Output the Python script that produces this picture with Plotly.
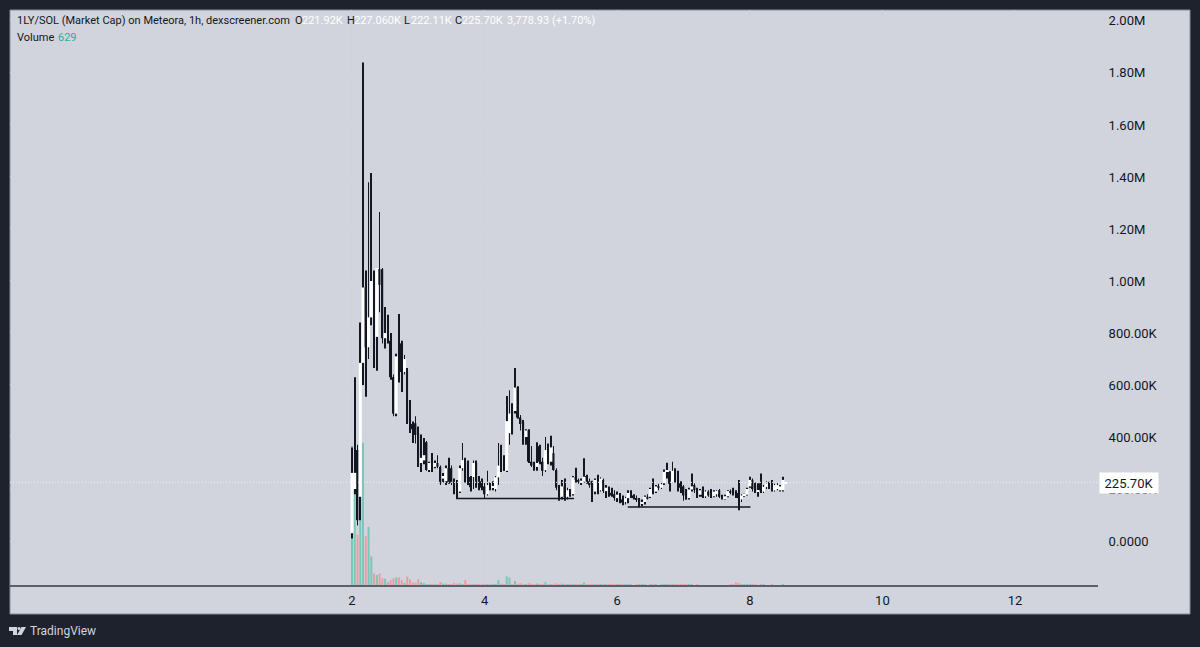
import plotly.graph_objects as go

W, H = 1200, 647

# candles in K, one per hour
opens = [30, 200, 350, 170, 685, 975, 745, 860, 970, 785, 1046, 1045, 780, 792, 770, 630, 490, 760, 760, 650,
         655, 460, 450, 453, 415, 300, 310, 380, 273, 305, 285, 300, 285, 240, 230, 280, 280, 230, 190, 190,
         280, 303, 305, 246, 246, 300, 240, 230, 210, 180, 215, 205, 200, 245, 290, 305, 270, 415, 505, 500,
         590, 475, 457, 400, 425, 305, 290, 285, 365, 305, 273, 350, 305, 338, 273, 205, 170, 210, 170, 190,
         180, 245, 235, 225, 228, 250, 230, 225, 190, 235, 195, 235, 192, 205, 185, 180, 165, 178, 160, 150,
         165, 185, 175, 165, 160, 145, 150, 170, 170, 200, 190, 210, 205, 222, 266, 265, 225, 273, 265, 222,
         210, 196, 165, 198, 215, 196, 178, 195, 172, 190, 195, 172, 180, 195, 170, 165, 172, 192, 200, 190,
         185, 160, 175, 178, 210, 235, 215, 190, 222, 190, 208, 222, 228, 195, 200, 195, 195, 221.92]
highs = [360, 630, 370, 840, 1840, 1040, 1380, 1415, 1040, 1050, 1265, 1050, 900, 870, 800, 640, 720, 873, 770, 715,
         665, 542, 460, 480, 440, 410, 396, 385, 305, 338, 310, 330, 290, 262, 290, 320, 290, 240, 235, 290,
         377, 320, 310, 250, 310, 310, 250, 240, 225, 270, 225, 230, 250, 377, 370, 330, 558, 580, 530, 665,
         595, 485, 465, 430, 430, 365, 305, 380, 370, 320, 400, 375, 405, 365, 280, 215, 235, 240, 205, 200,
         250, 282, 240, 240, 318, 255, 240, 232, 240, 255, 245, 240, 215, 210, 205, 195, 190, 185, 175, 170,
         195, 195, 180, 175, 165, 160, 175, 180, 205, 240, 215, 220, 225, 275, 301, 268, 305, 280, 270, 230,
         215, 200, 205, 260, 222, 205, 200, 210, 195, 195, 200, 195, 195, 200, 178, 178, 195, 198, 205, 195,
         235, 180, 182, 205, 247, 240, 225, 222, 260, 215, 230, 228, 235, 220, 222, 215, 247, 227.06]
lows = [10, 180, 60, 80, 600, 555, 700, 830, 665, 655, 880, 760, 740, 760, 620, 480, 480, 610, 573, 640,
        450, 415, 377, 375, 285, 265, 295, 270, 265, 265, 280, 280, 215, 225, 215, 220, 215, 180, 165, 185,
        270, 225, 215, 190, 200, 205, 195, 195, 165, 175, 195, 195, 190, 215, 265, 270, 265, 370, 410, 490,
        470, 425, 370, 370, 300, 285, 270, 270, 295, 250, 265, 295, 290, 270, 195, 155, 160, 155, 160, 170,
        175, 225, 220, 215, 225, 220, 205, 150, 180, 180, 190, 185, 165, 170, 170, 155, 150, 145, 138, 140,
        145, 165, 160, 150, 130, 135, 140, 160, 165, 180, 185, 195, 200, 215, 240, 190, 225, 225, 190, 185,
        155, 160, 160, 190, 185, 165, 170, 165, 165, 170, 165, 168, 170, 165, 160, 160, 168, 180, 175, 165,
        118, 150, 170, 175, 205, 190, 185, 170, 185, 185, 200, 200, 190, 190, 195, 190, 190, 222.11]
closes = [262, 262, 80, 685, 975, 745, 860, 1000, 785, 1050, 985, 780, 800, 765, 630, 490, 710, 740, 650, 700,
          457, 440, 430, 408, 300, 320, 330, 273, 300, 270, 300, 285, 222, 250, 280, 225, 225, 190, 175, 280,
          311, 242, 240, 207, 300, 215, 205, 205, 180, 215, 205, 210, 245, 290, 275, 270, 461, 490, 415, 590,
          475, 450, 400, 425, 305, 290, 285, 300, 305, 270, 350, 305, 360, 273, 205, 170, 210, 170, 195, 180,
          245, 235, 225, 232, 247, 230, 215, 190, 235, 195, 240, 192, 205, 185, 175, 165, 178, 160, 148, 165,
          185, 175, 165, 160, 140, 150, 170, 165, 200, 190, 210, 205, 218, 266, 270, 220, 270, 235, 195, 205,
          175, 160, 198, 210, 196, 175, 195, 170, 190, 175, 170, 190, 192, 170, 165, 172, 192, 185, 180, 172,
          165, 175, 178, 200, 235, 200, 190, 195, 190, 208, 222, 205, 195, 215, 215, 210, 235, 225.70]
# volume in K
volumes = [90, 60, 33, 60, 92, 32, 38, 19, 8.1, 7, 8, 5, 4.7, 2.6, 3.8, 4.9, 5.5, 5.5, 3.8, 2.1,
           6, 4.3, 2.3, 2.1, 4.5, 2.6, 1.9, 1.3, 1.3, 1.3, 0.9, 0.9, 2.6, 1.5, 1.5, 1.3, 1.3, 1.9, 1.5, 1.7,
           1.3, 3.8, 0.9, 1.1, 0.9, 1.4, 0.8, 1.0, 1.3, 1.2, 0.8, 0.9, 1.4, 3.8, 1.5, 0.9, 6.2, 5.5, 1.0, 3.2,
           1.5, 1.7, 0.9, 1.1, 1.8, 1.4, 1.0, 1.6, 0.9, 1.1, 2.4, 1.0, 1.2, 1.4, 1.7, 1.0, 1.5, 1.2, 0.8, 0.9,
           1.3, 1.1, 0.8, 0.9, 2.4, 1.0, 0.8, 1.2, 0.9, 0.7, 1.1, 0.9, 0.8, 0.9, 0.7, 1.0, 0.8, 0.7, 0.9, 0.7,
           0.8, 0.7, 0.6, 0.8, 1.0, 0.7, 0.9, 0.6, 0.8, 1.1, 0.7, 0.6, 0.7, 1.2, 1.0, 0.9, 1.0, 0.8, 0.9, 0.7,
           0.9, 0.8, 0.7, 1.0, 0.6, 0.7, 0.6, 0.5, 0.6, 0.5, 0.6, 0.5, 0.6, 0.5, 0.6, 0.5, 0.6, 0.7, 0.9, 2.4,
           2.0, 1.2, 0.7, 0.8, 1.1, 0.9, 0.7, 0.6, 1.0, 0.7, 0.6, 0.5, 0.7, 0.6, 0.6, 0.5, 0.7, 0.629]
hours = [2 + i / 24 for i in range(len(opens))]

support_x = [[3.57, 5.35], [6.16, 8.01]]
support_y = [163.5, 131]
last_price = 225.70

price_ticks = [0, 200, 400, 600, 800, 1000, 1200, 1400, 1600, 1800, 2000]
price_labels = ["0.0000", "200.00K", "400.00K", "600.00K", "800.00K", "1.00M", "1.20M", "1.40M", "1.60M", "1.80M", "2.00M"]
day_ticks = [2, 4, 6, 8, 10, 12]

DARK = "#1e222d"
PANEL = "#d1d4dc"
INK = "#131722"


def px(x):
    return x / W


def py(y):
    return 1 - y / H


fig = go.Figure()

# volume sits under the candles
fig.add_trace(go.Bar(
    x=hours, y=volumes, width=2 / 66.3, yaxis="y", xaxis="x",
    marker=dict(color=["#7cc6b8" if c >= o else "#ee9ba3" for o, c in zip(opens, closes)], line_width=0),
))
fig.add_trace(go.Scatter(
    x=[-3.158, 13.252], y=[last_price, last_price], yaxis="y2", mode="lines",
    line=dict(color="#f0f1f4", width=1, dash="1px,2px"),
))
# wicks
fig.add_trace(go.Bar(
    x=hours, y=[h - l for h, l in zip(highs, lows)], base=lows, width=0.7 / 66.3, yaxis="y2",
    marker=dict(color=INK, line_width=0),
))
# bodies: down candles first so the white ones stay visible on top
fig.add_trace(go.Bar(
    x=hours, y=[o - c if c < o else 0 for o, c in zip(opens, closes)], base=[min(o, c) for o, c in zip(opens, closes)],
    width=1.7 / 66.3, yaxis="y2", marker=dict(color=INK, line_width=0),
))
fig.add_trace(go.Bar(
    x=hours, y=[c - o if c >= o else 0 for o, c in zip(opens, closes)], base=[min(o, c) for o, c in zip(opens, closes)],
    width=3 / 66.3, yaxis="y2", marker=dict(color="white", line_width=0),
))
for sx, sy in zip(support_x, support_y):
    fig.add_trace(go.Scatter(x=sx, y=[sy, sy], yaxis="y2", mode="lines", line=dict(color=INK, width=1.5)))

shapes = [
    dict(type="rect", xref="paper", yref="paper", x0=px(10), x1=px(1190), y0=py(10), y1=py(614),
         fillcolor=PANEL, line=dict(color="#8b8f9a", width=1), layer="below"),
    dict(type="line", xref="paper", yref="paper", x0=px(10), x1=px(1098), y0=py(586), y1=py(586),
         line=dict(color="#5d606b", width=2)),
    # TradingView logo
    dict(type="path", xref="paper", yref="paper", fillcolor="#d1d4dc", line_width=0,
         path=f"M{px(9)},{py(627)} L{px(17)},{py(627)} L{px(17)},{py(635)} L{px(13)},{py(635)} L{px(13)},{py(631)} L{px(9)},{py(631)} Z"),
    dict(type="circle", xref="paper", yref="paper", fillcolor="#d1d4dc", line_width=0,
         x0=px(17.5), x1=px(20.5), y0=py(630), y1=py(627)),
    dict(type="path", xref="paper", yref="paper", fillcolor="#d1d4dc", line_width=0,
         path=f"M{px(21.5)},{py(627)} L{px(26)},{py(627)} L{px(21.5)},{py(635)} L{px(17)},{py(635)} Z"),
]

legend_bits = [
    (15, 21, "1LY/SOL (Market Cap) on Meteora, 1h, dexscreener.com", INK),
    (293, 21, "O", INK), (300, 21, "221.92K", "white"),
    (345, 21, "H", INK), (352, 21, "227.060K", "white"),
    (402, 21, "L", INK), (409, 21, "222.11K", "white"),
    (453, 21, "C", INK), (460, 21, "225.70K", "white"),
    (505, 21, "3,778.93 (+1.70%)", "white"),
    (15, 37, "Volume", INK), (56, 37, "629", "#26b39a"),
]
annotations = [
    dict(xref="paper", yref="paper", x=px(x), y=py(y), text=t, showarrow=False, xanchor="left", yanchor="middle",
         font=dict(color=c, size=11))
    for x, y, t, c in legend_bits
]
annotations.append(dict(xref="paper", yref="paper", x=px(28), y=py(631), text="TradingView", showarrow=False,
                        xanchor="left", yanchor="middle", font=dict(color="#d1d4dc", size=12)))
annotations.append(dict(xref="paper", yref="paper", x=px(1099), y=py(483), text="225.70K", showarrow=False,
                        xanchor="left", yanchor="middle", font=dict(color=INK, size=13),
                        bgcolor="white", borderpad=0, width=58, height=20, align="center"))

fig.update_layout(
    width=W, height=H,
    margin=dict(l=0, r=0, t=0, b=0),
    paper_bgcolor=DARK, plot_bgcolor=PANEL,
    font=dict(family="Roboto", size=12, color=INK),
    showlegend=False,
    barmode="overlay",
    shapes=shapes,
    annotations=annotations,
    xaxis=dict(domain=[px(10), px(1098)], range=[-3.158, 13.252], tickmode="array", tickvals=day_ticks,
               ticks="outside", ticklen=2, tickcolor="rgba(0,0,0,0)", showgrid=True, gridcolor="#cfd2da",
               zeroline=False, showline=False, tickfont=dict(size=13, color=INK)),
    yaxis=dict(domain=[py(586), py(10)], range=[0, 370], visible=False),
    yaxis2=dict(domain=[py(586), py(10)], range=[-173, 2042], overlaying="y", side="right", anchor="x",
                tickmode="array", tickvals=price_ticks, ticktext=price_labels, ticks="outside", ticklen=7,
                tickcolor="rgba(0,0,0,0)", showgrid=True, gridcolor="#cfd2da", zeroline=False, showline=False,
                tickfont=dict(size=13, color=INK)),
)

fig.write_html("out.html", config={"displayModeBar": False},
               post_script="document.body.style.margin='0';document.body.style.background='#1e222d';")
